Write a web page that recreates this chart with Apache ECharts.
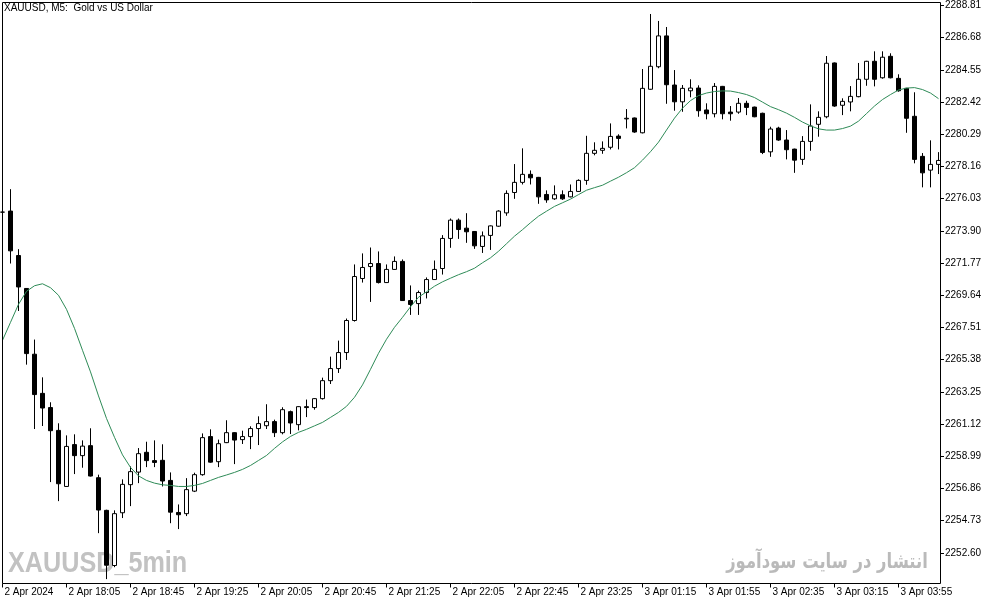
<!DOCTYPE html>
<html><head><meta charset="utf-8">
<script src="https://cdn.jsdelivr.net/npm/echarts@6/dist/echarts.min.js"></script>
<style>html,body{margin:0;padding:0;background:#fff}#c{width:994px;height:605px}</style>
</head><body><div id="c"></div>
<script>
const tickLabels = ['2 Apr 2024','2 Apr 18:05','2 Apr 18:45','2 Apr 19:25','2 Apr 20:05','2 Apr 20:45','2 Apr 21:25','2 Apr 22:05','2 Apr 22:45','2 Apr 23:25','3 Apr 01:15','3 Apr 01:55','3 Apr 02:35','3 Apr 03:15','3 Apr 03:55'];
const yTicks = [2252.60,2254.73,2256.86,2258.99,2261.12,2263.25,2265.38,2267.51,2269.64,2271.77,2273.90,2276.03,2278.16,2280.29,2282.42,2284.55,2286.68,2288.81];

const opens = [2275.14,2275.21,2272.27,2270.09,2265.74,2263.15,2262.21,2260.70,2256.99,2259.76,
2259.03,2259.69,2257.57,2255.41,2251.76,2255.25,2257.11,2257.94,2259.25,2258.70,
2258.72,2257.39,2255.27,2255.19,2256.68,2257.77,2260.29,2258.63,2259.89,2260.55,
2260.09,2260.29,2260.82,2261.01,2261.28,2260.55,2261.94,2261.08,2262.27,2262.21,
2262.80,2263.99,2264.79,2265.85,2267.97,2270.75,2271.54,2271.74,2270.48,2271.35,
2271.88,2269.29,2269.09,2269.82,2270.68,2271.41,2273.40,2274.61,2274.08,2273.86,
2272.87,2273.60,2274.21,2275.09,2276.44,2277.11,2277.64,2277.44,2276.31,2276.02,
2276.29,2276.15,2276.51,2277.24,2279.03,2279.23,2279.43,2280.17,2281.31,2281.37,
2280.39,2283.27,2284.76,2286.80,2283.55,2282.44,2283.17,2283.35,2281.90,2281.65,
2283.46,2281.76,2281.76,2282.34,2282.09,2281.68,2279.13,2280.70,2279.91,2279.31,
2278.63,2279.82,2280.95,2281.45,2285.01,2282.21,2282.43,2282.78,2283.93,2285.12,
2284.03,2285.45,2283.99,2283.33,2281.48,2278.83,2277.92,2278.30];

const closes = [2275.14,2272.58,2270.19,2265.78,2263.07,2262.18,2260.68,2257.17,2259.64,2259.03,
2259.66,2257.68,2255.43,2251.78,2255.19,2257.13,2257.97,2259.16,2258.70,2258.58,
2257.35,2255.29,2255.12,2256.78,2257.77,2260.22,2258.60,2259.82,2260.55,2260.06,
2260.29,2260.82,2261.15,2261.28,2260.55,2262.07,2261.19,2262.27,2262.21,2262.80,
2263.99,2264.79,2265.85,2267.97,2270.88,2271.48,2271.74,2270.48,2271.35,2271.88,
2269.29,2269.03,2269.82,2270.68,2271.35,2273.40,2274.61,2273.99,2273.84,2272.91,
2273.57,2274.23,2275.21,2276.38,2277.11,2277.64,2277.41,2276.15,2275.95,2276.29,
2276.02,2276.51,2277.24,2279.03,2279.23,2279.36,2280.15,2280.02,2281.35,2280.44,
2283.33,2284.79,2286.80,2283.57,2282.44,2283.33,2283.35,2281.85,2281.65,2283.46,
2281.65,2281.65,2282.34,2282.07,2281.45,2279.09,2280.64,2279.91,2279.27,2278.58,
2279.82,2280.84,2281.41,2284.99,2282.16,2282.47,2282.80,2283.93,2285.12,2283.93,
2285.39,2284.03,2283.17,2281.35,2278.63,2277.74,2278.30,2278.56];

const highs = [2275.40,2276.66,2272.69,2270.12,2266.71,2264.21,2262.56,2261.17,2260.37,2260.44,
2260.04,2260.84,2257.77,2255.45,2255.41,2257.46,2258.32,2259.53,2259.95,2260.04,
2259.78,2257.92,2255.80,2257.54,2257.90,2260.50,2260.77,2260.09,2261.37,2260.58,
2260.68,2260.97,2261.63,2262.43,2261.41,2262.23,2262.01,2262.30,2262.74,2262.83,
2264.19,2265.58,2266.64,2268.10,2271.68,2272.41,2272.80,2272.54,2271.68,2272.21,
2272.01,2270.29,2269.95,2270.82,2271.94,2273.62,2274.72,2274.72,2275.07,2273.89,
2273.86,2274.26,2275.27,2276.58,2278.32,2279.36,2277.90,2277.47,2276.58,2276.91,
2276.58,2276.97,2277.31,2280.19,2279.76,2279.82,2281.01,2280.29,2281.96,2281.40,
2284.61,2288.25,2287.79,2287.39,2284.54,2283.55,2283.93,2283.53,2282.34,2283.68,
2283.49,2282.16,2282.69,2282.51,2282.12,2281.72,2280.79,2280.79,2280.57,2279.34,
2280.17,2282.27,2281.81,2285.47,2285.04,2282.67,2283.48,2285.01,2285.15,2285.78,
2285.78,2285.65,2284.26,2283.36,2283.07,2279.05,2279.89,2279.11];

const lows = [2274.88,2271.74,2268.60,2265.05,2260.79,2260.99,2257.28,2256.02,2256.96,2257.81,
2258.23,2257.65,2253.90,2250.86,2251.65,2254.90,2255.69,2257.21,2258.27,2258.27,
2256.99,2254.56,2254.17,2255.03,2256.62,2257.70,2258.56,2258.27,2259.86,2258.47,
2259.80,2259.46,2259.73,2260.79,2260.26,2260.44,2260.46,2260.70,2261.58,2262.07,
2262.74,2263.77,2264.50,2265.36,2267.90,2270.48,2269.20,2270.42,2270.45,2271.32,
2269.26,2268.34,2268.34,2269.43,2270.65,2271.01,2272.78,2273.37,2273.11,2272.71,
2272.44,2272.64,2274.17,2274.90,2276.02,2276.97,2276.97,2275.69,2275.76,2275.95,
2275.95,2276.12,2276.48,2276.95,2278.90,2279.00,2279.29,2279.29,2280.68,2280.39,
2280.35,2283.24,2284.66,2282.31,2281.85,2281.78,2282.74,2281.45,2281.28,2281.41,
2281.28,2281.19,2281.65,2281.56,2281.42,2278.98,2278.80,2279.86,2278.63,2277.74,
2278.27,2279.20,2280.13,2281.35,2282.11,2281.56,2281.81,2282.74,2283.50,2283.46,
2283.97,2283.99,2283.11,2280.39,2278.37,2276.78,2276.78,2277.66];

const ma = [2266.66,2267.85,2269.04,2269.90,2270.27,2270.40,2270.14,2269.64,2268.71,2267.45,
2266.00,2264.57,2262.98,2261.49,2260.24,2259.08,2258.25,2257.69,2257.39,2257.21,
2257.10,2257.06,2256.99,2256.99,2257.06,2257.19,2257.39,2257.59,2257.75,2257.92,
2258.12,2258.38,2258.71,2259.04,2259.51,2259.94,2260.30,2260.57,2260.77,2261.00,
2261.23,2261.56,2261.89,2262.29,2262.89,2263.71,2264.74,2265.80,2266.73,2267.52,
2268.18,2268.88,2269.51,2269.87,2270.24,2270.53,2270.77,2271.00,2271.20,2271.43,
2271.79,2272.12,2272.55,2273.05,2273.55,2273.98,2274.44,2274.87,2275.20,2275.52,
2275.76,2276.00,2276.30,2276.59,2276.76,2276.92,2277.19,2277.45,2277.75,2278.08,
2278.58,2279.14,2279.77,2280.57,2281.36,2282.02,2282.52,2282.85,2283.02,2283.12,
2283.16,2283.15,2283.05,2282.92,2282.72,2282.42,2282.12,2281.92,2281.69,2281.41,
2281.10,2280.85,2280.65,2280.57,2280.57,2280.67,2280.83,2281.16,2281.66,2282.16,
2282.59,2282.92,2283.22,2283.35,2283.38,2283.25,2283.02,2282.65];

// bar times (5-minute bars, session break after 23:55)
const categories = [];
for (let i = 0; i < opens.length; i++) {
  const mins = i < 79 ? 17 * 60 + 25 + 5 * i : 70 + 5 * (i - 79);
  const hh = String(Math.floor(mins / 60)).padStart(2, '0');
  const mm = String(mins % 60).padStart(2, '0');
  categories.push((i < 79 ? '2 Apr ' : '3 Apr ') + hh + ':' + mm);
}
const candles = categories.map((c, i) => [opens[i], closes[i], lows[i], highs[i]]);

const FONT = '"Liberation Sans", Arial, sans-serif';
const chart = echarts.init(document.getElementById('c'));
chart.setOption({
  animation: false,
  backgroundColor: '#ffffff',
  grid: { left: 2.5, top: 2.5, right: 55.5, bottom: 21.5, containLabel: false },
  xAxis: {
    type: 'category',
    data: categories,
    boundaryGap: false,
    axisLine: { show: false },
    axisTick: { show: true, interval: 7, length: 4, lineStyle: { color: '#000', width: 1 } },
    axisLabel: {
      interval: 7, align: 'left', margin: 4, color: '#000', fontSize: 10, fontFamily: FONT,
      padding: [0, 0, 0, 2],
      formatter: (v, idx) => tickLabels[Math.round(idx / 8)] || ''
    },
    splitLine: { show: false }
  },
  yAxis: {
    type: 'value',
    position: 'right',
    offset: 2.5,
    min: 2250.57,
    max: 2289.01,
    axisLine: { show: false },
    axisTick: { show: true, length: 3, customValues: yTicks, lineStyle: { color: '#000', width: 1 } },
    axisLabel: {
      customValues: yTicks, margin: 4, color: '#000', fontSize: 10, fontFamily: FONT,
      formatter: v => Number(v).toFixed(2)
    },
    splitLine: { show: false }
  },
  series: [
    {
      type: 'candlestick',
      data: candles,
      barWidth: 4,
      clip: false,
      z: 3,
      silent: true,
      itemStyle: {
        color: '#ffffff', color0: '#000000',
        borderColor: '#000000', borderColor0: '#000000', borderColorDoji: '#000000',
        borderWidth: 1
      }
    },
    {
      type: 'line',
      data: ma,
      symbol: 'none',
      silent: true,
      z: 4,
      lineStyle: { color: '#2e8b57', width: 1 }
    }
  ],
  graphic: [
    {
      type: 'text', z: 1, x: 8, y: 564, scaleX: 0.84,
      style: { text: 'XAUUSD_5min', font: 'bold 30px "Liberation Sans", Arial, sans-serif', fill: '#c2c2c2', textVerticalAlign: 'middle', textAlign: 'left' }
    },
    {
      type: 'text', z: 1, x: 827, y: 563, scaleX: 0.78,
      style: { text: 'انتشار در سایت سودآموز', font: 'bold 21px "DejaVu Sans", sans-serif', fill: '#bababa', textVerticalAlign: 'middle', textAlign: 'center' }
    },
    {
      type: 'text', z: 20, x: 4, y: 3,
      style: { text: 'XAUUSD, M5:  Gold vs US Dollar', font: '10px "Liberation Sans", Arial, sans-serif', fill: '#000', textVerticalAlign: 'top', textAlign: 'left' }
    },
    {
      type: 'rect', z: 20, silent: true,
      shape: { x: 2.5, y: 2.5, width: 938, height: 581 },
      style: { fill: null, stroke: '#000', lineWidth: 1 }
    }
  ]
});
</script>
</body></html>
